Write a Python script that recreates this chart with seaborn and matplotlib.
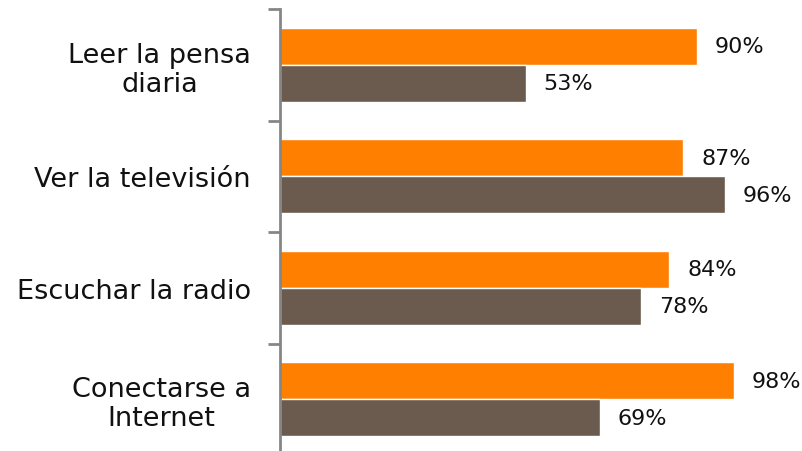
import pandas as pd
import matplotlib.pyplot as plt
import seaborn as sns

categorias = ["Leer la pensa\ndiaria", "Ver la televisión", "Escuchar la radio", "Conectarse a\nInternet"]
serie_a = [90, 87, 84, 98]
serie_b = [53, 96, 78, 69]

df = pd.DataFrame({
    "categoria": categorias * 2,
    "valor": serie_a + serie_b,
    "serie": ["A"] * len(categorias) + ["B"] * len(categorias),
})

sns.set_style("white")
plt.rcParams['font.family'] = ['DejaVu Sans']

fig = plt.figure(figsize=(8.03, 4.52), dpi=100)
ax = fig.add_axes([280 / 803, 1 - 456 / 452, 523 / 803, 446 / 452])

sns.barplot(data=df, x="valor", y="categoria", hue="serie", orient="h",
            palette=["#FF7F00", "#6B5B4E"], width=0.665, saturation=1,
            legend=False, ax=ax)

for cont in ax.containers:
    ax.bar_label(cont, labels=[f"{v:.0f}%" for v in cont.datavalues],
                 padding=13, fontsize=16, color="#111111")

ax.set_xlim(0, 112.9)
ax.set_ylim(len(categorias) - 0.5, -0.5)
ax.set_xlabel("")
ax.set_ylabel("")
ax.set_xticks([])

for s in ["top", "right", "bottom"]:
    ax.spines[s].set_visible(False)
ax.spines["left"].set_color("#868686")
ax.spines["left"].set_linewidth(2)

ax.set_yticks([i - 0.5 for i in range(len(categorias) + 1)], minor=True)
ax.tick_params(axis="y", which="minor", length=9, width=2, color="#868686", direction="out", left=True)
ax.tick_params(axis="y", which="major", length=0, pad=21, labelsize=19.5, labelcolor="#111111")
for lbl in ax.get_yticklabels():
    lbl.set_multialignment("center")
    lbl.set_linespacing(1.15)

fig.savefig("out.png", dpi=100)
